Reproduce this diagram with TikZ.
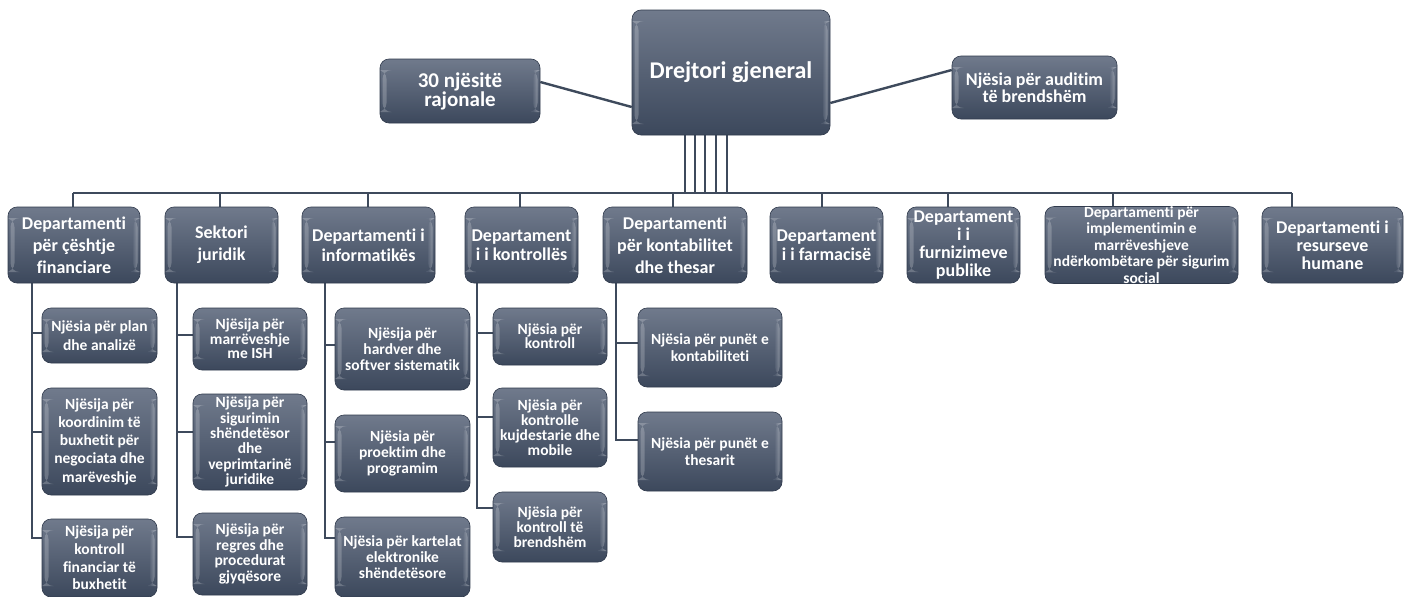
\documentclass[tikz,border=0pt]{standalone}
\usepackage{fontspec}
\setmainfont{Carlito}[Ligatures={NoCommon}, RawFeature={-liga;-clig;-calt;-dlig}]
\pgfdeclarelayer{bg}
\pgfsetlayers{bg,main}
\definecolor{boxtop}{RGB}{112,122,140}
\definecolor{boxbot}{RGB}{60,72,92}
\definecolor{boxedge}{RGB}{48,58,76}
\definecolor{linec}{RGB}{62,74,92}
\newcommand\mynolsl{\lineskiplimit-50pt\relax}
\tikzset{
  box/.style={rounded corners=9pt, top color=boxtop, bottom color=boxbot,
    draw=boxedge, line width=0.6pt, text=white, align=center, inner sep=0pt,
    path picture={
      \shade[left color=white, right color=boxtop, opacity=0.22]
        ([xshift=2.5pt,yshift=-11pt]path picture bounding box.north west)
        rectangle ([xshift=6.5pt,yshift=11pt]path picture bounding box.south west);
      \shade[left color=boxtop, right color=white, opacity=0.3]
        ([xshift=-7pt,yshift=-11pt]path picture bounding box.north east)
        rectangle ([xshift=-2.5pt,yshift=11pt]path picture bounding box.south east);
    }},
  conn/.style={draw=linec, line width=2.4pt},
  thin/.style={draw=linec, line width=2pt},
  dfont/.style={font={\bfseries\fontsize{18}{#1}\selectfont\mynolsl}},
  sfont/.style={font={\bfseries\fontsize{15.5}{#1}\selectfont\mynolsl}},
  dept/.style={box, minimum height=76pt},
  sub/.style={box},
}
\begin{document}
\begin{tikzpicture}[x=1pt,y=-1pt]
\useasboundingbox (0,0) rectangle (1406,597);
\begin{pgfonlayer}{bg}
\fill[white] (0,0) rectangle (1406,597);
\end{pgfonlayer}

% top level
\node[box, minimum width=160pt, minimum height=64pt,
  font={\bfseries\fontsize{21}{19}\selectfont\mynolsl}] (top1) at (460,91) {30 njësitë\\rajonale};
\node[box, minimum width=198pt, minimum height=125pt,
  font={\bfseries\fontsize{24}{26}\selectfont}] (dg) at (731,72.5) {Drejtori gjeneral};
\node[box, minimum width=165pt, minimum height=63pt,
  font={\bfseries\fontsize{18}{17}\selectfont\mynolsl}] (top2) at (1034.5,87.5) {Njësia për audit\kern0pt im\\të brendshëm};

% departments
\node[dept, dfont=22, minimum width=132pt] (d1) at (74,245) {Departament\kern0pt i\\për çështje\\financiare};
\node[dept, dfont=22, minimum width=113pt] (d2) at (221.5,245) {Sektori\\juridik};
\node[dept, dfont=20, minimum width=133pt] (d3) at (368.5,245) {Departament\kern0pt i i\\informat\kern0pt ikës};
\node[dept, dfont=19, minimum width=113pt] (d4) at (521.5,245) {Departament\\i i kontrollës};
\node[dept, dfont=22, minimum width=144pt] (d5) at (675,245) {Departament\kern0pt i\\për kontabilitet\\dhe thesar};
\node[dept, dfont=19, minimum width=113pt] (d6) at (826.5,245) {Departament\\i i farmacisë};
\node[dept, dfont=18, minimum width=113pt] (d7) at (963.5,245) {Departament\\i i\\furnizimeve\\publike};
\node[dept, font={\bfseries\fontsize{15.5}{16.5}\selectfont\mynolsl}, minimum width=193pt] (d8) at (1141.5,245)
  {Departament\kern0pt i për\\implement\kern0pt imin e\\marrëveshjeve\\ndërkombëtare për sigurim\\social};
\node[dept, dfont=18, minimum width=141pt] (d9) at (1332.5,245) {Departament\kern0pt i i\\resurseve\\humane};

% units
\node[sub, sfont=19, minimum width=115pt, minimum height=55pt] (s11) at (99.5,335.5) {Njësia për plan\\dhe analizë};
\node[sub, sfont=18.3, minimum width=115pt, minimum height=107pt] (s12) at (99.5,441.5) {Njësija për\\koordinim të\\buxhetit për\\negociata dhe\\marëveshje};
\node[sub, sfont=17.7, minimum width=115pt, minimum height=78pt] (s13) at (99.5,558) {Njësija për\\kontroll\\financiar të\\buxhetit};

\node[sub, sfont=14.5, minimum width=114pt, minimum height=62pt] (s21) at (250,339) {Njësija për\\marrëveshje\\me ISH};
\node[sub, sfont=15.4, minimum width=114pt, minimum height=96pt] (s22) at (250,442) {Njësija për\\sigurimin\\shëndetësor\\dhe\\veprimtarinë\\juridike};
\node[sub, sfont=15.7, minimum width=114pt, minimum height=82pt] (s23) at (250,554) {Njësija për\\regres dhe\\procedurat\\gjyqësore};

\node[sub, sfont=15.8, minimum width=135pt, minimum height=82pt] (s31) at (402.5,349) {Njësija për\\hardver dhe\\softver sistemat\kern0pt ik};
\node[sub, sfont=16, minimum width=135pt, minimum height=77pt] (s32) at (402.5,453.5) {Njësia për\\proektim dhe\\programim};
\node[sub, sfont=16, minimum width=135pt, minimum height=80pt] (s33) at (402.5,557) {Njësia për kartelat\\elektronike\\shëndetësore};

\node[sub, sfont=14, minimum width=114pt, minimum height=57pt] (s41) at (550,336.5) {Njësia për\\kontroll};
\node[sub, sfont=15, minimum width=114pt, minimum height=79pt] (s42) at (550,427.5) {Njësia për\\kontrolle\\kujdestarie dhe\\mobile};
\node[sub, sfont=15, minimum width=114pt, minimum height=70pt] (s43) at (550,527) {Njësia për\\kontroll të\\brendshëm};

\node[sub, sfont=16.7, minimum width=144pt, minimum height=79pt] (s51) at (710,347.5) {Njësia për punët e\\kontabilitet\kern0pt i};
\node[sub, sfont=16.7, minimum width=144pt, minimum height=79pt] (s52) at (710,451.5) {Njësia për punët e\\thesarit};

\coordinate (bus) at (700,193);

\begin{pgfonlayer}{bg}
% top connectors
\draw[conn] (top1.east |- 0,82) -- (dg.west |- 0,107);
\draw[conn] (dg.east |- 0,103) -- (top2.west |- 0,70);
% general director to bus
\foreach \x in {685,695,705,716,727} \draw[thin] (dg.south -| \x,0) -- (bus -| \x,0);
% bus
\draw[conn] (bus -| 73,0) -- (bus -| 1292,0);
\draw[conn] (bus -| 73,0) -- (d1.north -| 73,0);
\draw[conn] (bus -| 220,0) -- (d2.north -| 220,0);
\draw[conn] (bus -| 368,0) -- (d3.north -| 368,0);
\draw[conn] (bus -| 520,0) -- (d4.north -| 520,0);
\draw[conn] (bus -| 673,0) -- (d5.north -| 673,0);
\draw[conn] (bus -| 822,0) -- (d6.north -| 822,0);
\draw[conn] (bus -| 948,0) -- (d7.north -| 948,0);
\draw[conn] (bus -| 1113,0) -- (d8.north -| 1113,0);
\draw[conn] (bus -| 1292,0) -- (d9.north -| 1292,0);
% column 1
\draw[conn] (d1.south -| 32,0) |- (s11.west |- 0,333);
\draw[conn] (d1.south -| 32,0) |- (s12.west |- 0,432);
\draw[conn] (d1.south -| 32,0) |- (s13.west |- 0,538);
% column 2
\draw[conn] (d2.south -| 177,0) |- (s21.west |- 0,335);
\draw[conn] (d2.south -| 177,0) |- (s22.west |- 0,432);
\draw[conn] (d2.south -| 177,0) |- (s23.west |- 0,537);
% column 3
\draw[conn] (d3.south -| 325,0) |- (s31.west |- 0,345);
\draw[conn] (d3.south -| 325,0) |- (s32.west |- 0,442);
\draw[conn] (d3.south -| 325,0) |- (s33.west |- 0,538);
% column 4
\draw[conn] (d4.south -| 477,0) |- (s41.west |- 0,333);
\draw[conn] (d4.south -| 477,0) |- (s42.west |- 0,417);
\draw[conn] (d4.south -| 477,0) |- (s43.west |- 0,508);
% column 5
\draw[conn] (d5.south -| 616,0) |- (s51.west |- 0,343);
\draw[conn] (d5.south -| 616,0) |- (s52.west |- 0,440);
\end{pgfonlayer}
\end{tikzpicture}
\end{document}
